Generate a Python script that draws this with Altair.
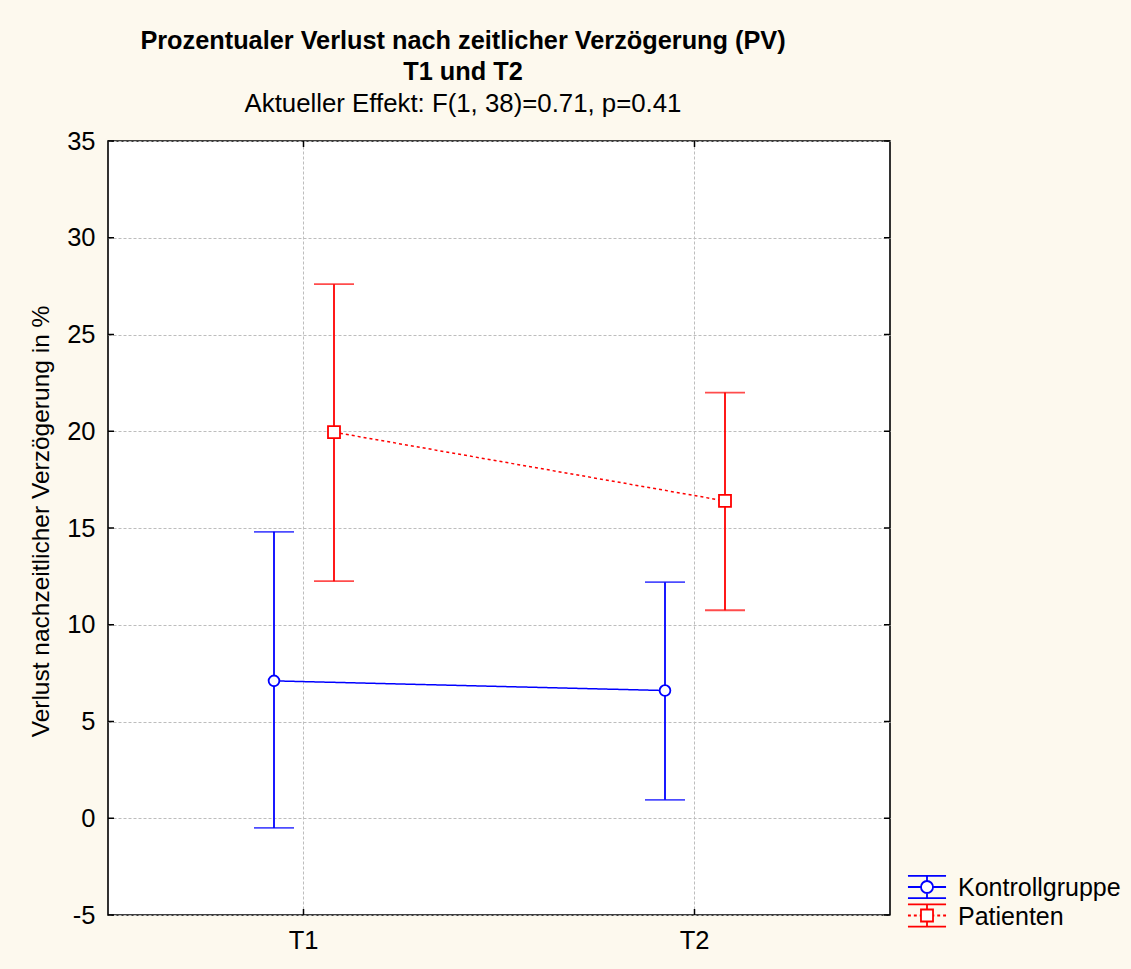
import altair as alt
import pandas as pd

# Messzeitpunkte und Gruppen
zeitpunkte = ["T1", "T2"]
gruppen = ["Kontrollgruppe", "Patienten"]
farben = ["#0000ff", "#ff0000"]

# Mittelwerte und Konfidenzintervalle (Verlust in %)
mittel_kontrolle = [7.1, 6.6]
unten_kontrolle = [-0.5, 0.95]
oben_kontrolle = [14.8, 12.2]

mittel_patienten = [19.95, 16.4]
unten_patienten = [12.25, 10.75]
oben_patienten = [27.6, 22.0]

y_ticks = [-5, 0, 5, 10, 15, 20, 25, 30, 35]

rows = []
for i, z in enumerate(zeitpunkte):
    rows.append({"Zeit": z, "Gruppe": gruppen[0], "mittel": mittel_kontrolle[i],
                 "unten": unten_kontrolle[i], "oben": oben_kontrolle[i]})
    rows.append({"Zeit": z, "Gruppe": gruppen[1], "mittel": mittel_patienten[i],
                 "unten": unten_patienten[i], "oben": oben_patienten[i]})
df = pd.DataFrame(rows)

W, H = 782, 774
FONT = "Liberation Sans"
LW = 1.8

x_scale = alt.Scale(domain=zeitpunkte, paddingInner=0, paddingOuter=0)
# Gruppen innerhalb eines Zeitpunkts dicht nebeneinander
off_scale = alt.Scale(domain=gruppen, paddingInner=0, paddingOuter=0, range=[136, 256])
y_scale = alt.Scale(domain=[-5, 35], nice=False, zero=False)
col_scale = alt.Scale(domain=gruppen, range=farben)

x_axis = alt.Axis(title=None, labelAngle=0, grid=True, domain=False, ticks=False,
                  bandPosition=0.5, labelPadding=13)
y_axis = alt.Axis(title="Verlust nachzeitlicher Verzögerung in %", values=y_ticks,
                  labelExpr="datum.value + ''", titleY=380,
                  grid=True, domain=False, ticks=False, labelPadding=13, titlePadding=13)

color = alt.Color("Gruppe:N", scale=col_scale, legend=None)

base = alt.Chart(df).encode(
    x=alt.X("Zeit:N", scale=x_scale, axis=x_axis),
    xOffset=alt.XOffset("Gruppe:N", scale=off_scale),
)

bars = base.mark_rule(strokeWidth=LW).encode(
    y=alt.Y("unten:Q", scale=y_scale, axis=y_axis), y2="oben:Q", color=color)
cap_lo = base.mark_tick(size=40, thickness=LW).encode(y="unten:Q", color=color)
cap_hi = base.mark_tick(size=40, thickness=LW).encode(y="oben:Q", color=color)

lines = base.mark_line(strokeWidth=1.5).encode(
    y="mittel:Q",
    color=color,
    strokeDash=alt.StrokeDash("Gruppe:N", scale=alt.Scale(domain=gruppen, range=[[1, 0], [3, 3]]),
                              legend=None),
)

pts = base.mark_point(filled=False, strokeWidth=LW, opacity=1).encode(
    y="mittel:Q",
    color=color,
    shape=alt.Shape("Gruppe:N", scale=alt.Scale(domain=gruppen, range=["circle", "square"]),
                    legend=None),
    size=alt.Size("Gruppe:N", scale=alt.Scale(domain=gruppen, range=[115, 144]), legend=None),
    fill=alt.value("white"),
)

# Legende: Fehlerbalken-Symbol mit Mittelwertmarke je Gruppe
sym_k = ("M-1.36,-0.79H1.36M-1.36,0.79H1.36M0,-0.79V-0.43M0,0.43V0.79"
         "M-1.36,0H-0.43M0.43,0H1.36"
         "M-0.43,0A0.43,0.43,0,1,0,0.43,0A0.43,0.43,0,1,0,-0.43,0Z")
sym_p = ("M-1.36,-0.79H1.36M-1.36,0.79H1.36M0,-0.79V-0.43M0,0.43V0.79"
         "M-1.36,0H-1.15M-0.94,0H-0.73M-0.52,0H-0.43"
         "M0.43,0H0.52M0.73,0H0.94M1.15,0H1.36"
         "M-0.43,-0.43H0.43V0.43H-0.43Z")
symbole = [sym_k, sym_p]
legend_df = pd.DataFrame({"Gruppe": gruppen})
legend_layers = []
for i, g in enumerate(gruppen):
    row_y = 746 + i * 28.5
    eintrag = alt.Chart(legend_df).transform_filter(alt.datum.Gruppe == g)
    legend_layers.append(
        eintrag.mark_point(shape=symbole[i], size=784, filled=False, fill="white",
                           stroke=farben[i], strokeWidth=LW, opacity=1)
        .encode(x=alt.value(W + 37), y=alt.value(row_y))
    )
    legend_layers.append(
        eintrag.mark_text(align="left", baseline="middle", font=FONT, fontSize=25,
                          color="black", dy=1)
        .encode(text="Gruppe:N", x=alt.value(W + 68), y=alt.value(row_y))
    )

# Nach innen zeigende Teilstriche am Rahmen
tick_df = pd.DataFrame({"v": y_ticks})
zeit_df = pd.DataFrame({"Zeit": zeitpunkte})
tl = alt.Chart(tick_df).mark_rule(color="black", strokeWidth=1.5).encode(
    y="v:Q", x=alt.value(0), x2=alt.value(6))
tr = alt.Chart(tick_df).mark_rule(color="black", strokeWidth=1.5).encode(
    y="v:Q", x=alt.value(W - 6), x2=alt.value(W))
tt = alt.Chart(zeit_df).mark_rule(color="black", strokeWidth=1.5).encode(
    x="Zeit:N", y=alt.value(0), y2=alt.value(6))
tb = alt.Chart(zeit_df).mark_rule(color="black", strokeWidth=1.5).encode(
    x="Zeit:N", y=alt.value(H - 6), y2=alt.value(H))

chart = alt.layer(
    bars, cap_lo, cap_hi, lines, pts, tl, tr, tt, tb, *legend_layers
).properties(
    width=W, height=H,
    padding={"left": 108, "top": 141, "right": 241, "bottom": 54},
    autosize=alt.AutoSizeParams(type="none"),
    background="#fdf9ee",
    title=alt.TitleParams(
        text=["Prozentualer Verlust nach zeitlicher Verzögerung (PV)", "T1 und T2"],
        subtitle="Aktueller Effekt: F(1, 38)=0.71, p=0.41",
        font=FONT, fontSize=25.3, fontWeight="bold", color="black", lineHeight=31,
        subtitleFont=FONT, subtitleFontSize=25.8, subtitleFontWeight="normal",
        subtitleColor="black", subtitlePadding=7,
        anchor="middle", dx=-36, offset=12,
    ),
).configure_view(
    stroke="black", strokeWidth=1.6, fill="white"
).configure_axis(
    labelFont=FONT, labelFontSize=25.5, labelColor="black",
    titleFont=FONT, titleFontSize=24.5, titleFontWeight="normal", titleColor="black",
    gridColor="#bdbdbd", gridDash=[3, 2], gridWidth=1,
)

chart.save("out.html", embed_options={"renderer": "svg", "actions": False})
